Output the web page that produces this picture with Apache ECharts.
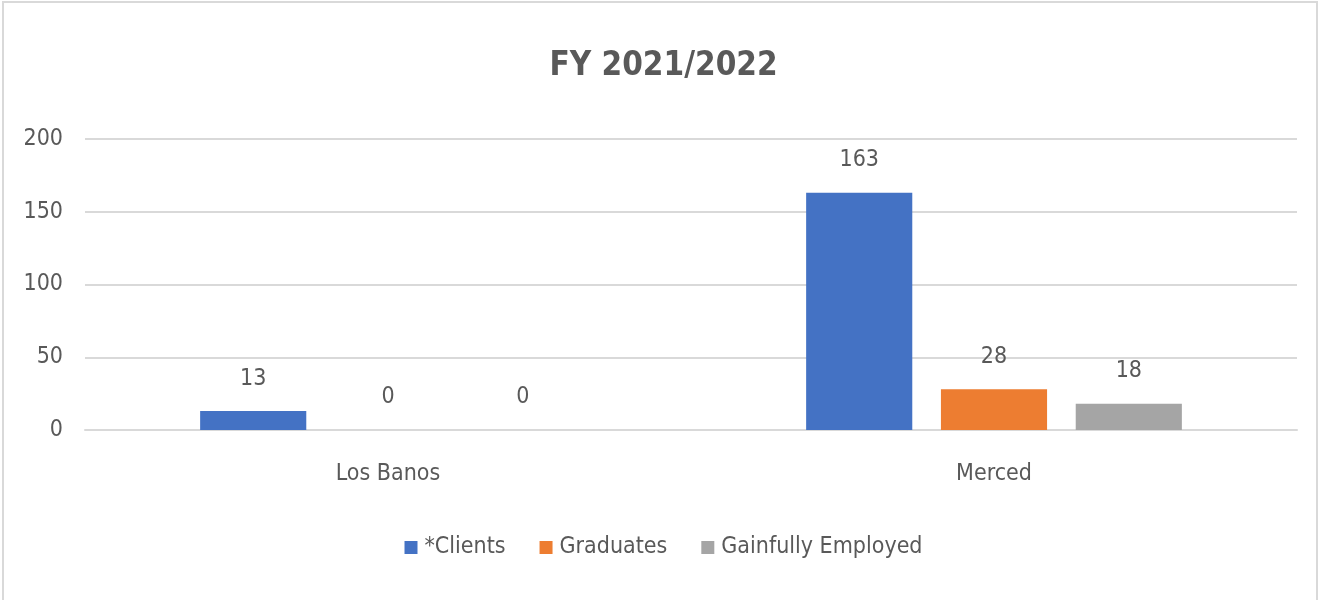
<!DOCTYPE html>
<html>
<head>
<meta charset="utf-8">
<script src="https://cdn.jsdelivr.net/npm/echarts@6/dist/echarts.min.js"></script>
<style>
    html, body { margin: 0; padding: 0; background: #fff; }
    #frame { position: absolute; left: 2px; top: 1px; width: 1312px; height: 620px; border: 2px solid #d9d9d9; }
    #main { position: absolute; left: 0; top: 0; width: 1327px; height: 600px; }
</style>
</head>
<body>
<div id="frame"></div>
<div id="main"></div>
<script>
const categories = ['Los Banos', 'Merced']
const seriesNames = ['*Clients', 'Graduates', 'Gainfully Employed']
const clients = [13, 163]
const graduates = [0, 28]
const employed = [0, 18]
const yTicks = [0, 50, 100, 150, 200]

const colors = ['#4472c4', '#ed7d31', '#a5a5a5']
const font = '"Liberation Sans Narrow", "DejaVu Sans Condensed", sans-serif'
const textColor = '#595959'

const chart = echarts.init(document.getElementById('main'))

function makeSeries(name, data, color) {
    return {
        name: name,
        type: 'bar',
        data: data,
        barGap: '27%',
        barCategoryGap: '38%',
        itemStyle: {color: color},
        label: {
            show: true,
            position: 'top',
            distance: 21,
            color: textColor,
            fontFamily: font,
            fontSize: 23
        }
    }
}

chart.setOption({
    animation: false,
    color: colors,
    title: {
        text: 'FY 2021/2022',
        left: 'center',
        top: 45,
        textStyle: {
            color: textColor,
            fontFamily: font,
            fontSize: 33,
            fontWeight: 'bold'
        }
    },
    legend: {
        bottom: 36,
        left: 'center',
        itemWidth: 13,
        itemHeight: 13,
        itemGap: 34,
        icon: 'rect',
        textStyle: {
            color: textColor,
            fontFamily: font,
            fontSize: 23,
            padding: [0, 0, 0, 2]
        },
        data: seriesNames
    },
    grid: {
        left: 85,
        right: 30,
        top: 139,
        bottom: 170,
        containLabel: false
    },
    xAxis: {
        type: 'category',
        data: categories,
        axisLine: {lineStyle: {color: '#d9d9d9', width: 2}},
        axisTick: {show: false},
        axisLabel: {
            color: textColor,
            fontFamily: font,
            fontSize: 23,
            margin: 33
        }
    },
    yAxis: {
        type: 'value',
        min: yTicks[0],
        max: yTicks[yTicks.length - 1],
        interval: 50,
        axisLine: {show: false},
        axisTick: {show: false},
        axisLabel: {
            color: textColor,
            fontFamily: font,
            fontSize: 23,
            margin: 22,
            padding: [4, 0, 0, 0]
        },
        splitLine: {lineStyle: {color: '#d9d9d9', width: 2}}
    },
    series: [
        makeSeries(seriesNames[0], clients, colors[0]),
        makeSeries(seriesNames[1], graduates, colors[1]),
        makeSeries(seriesNames[2], employed, colors[2])
    ]
})
</script>
</body>
</html>
